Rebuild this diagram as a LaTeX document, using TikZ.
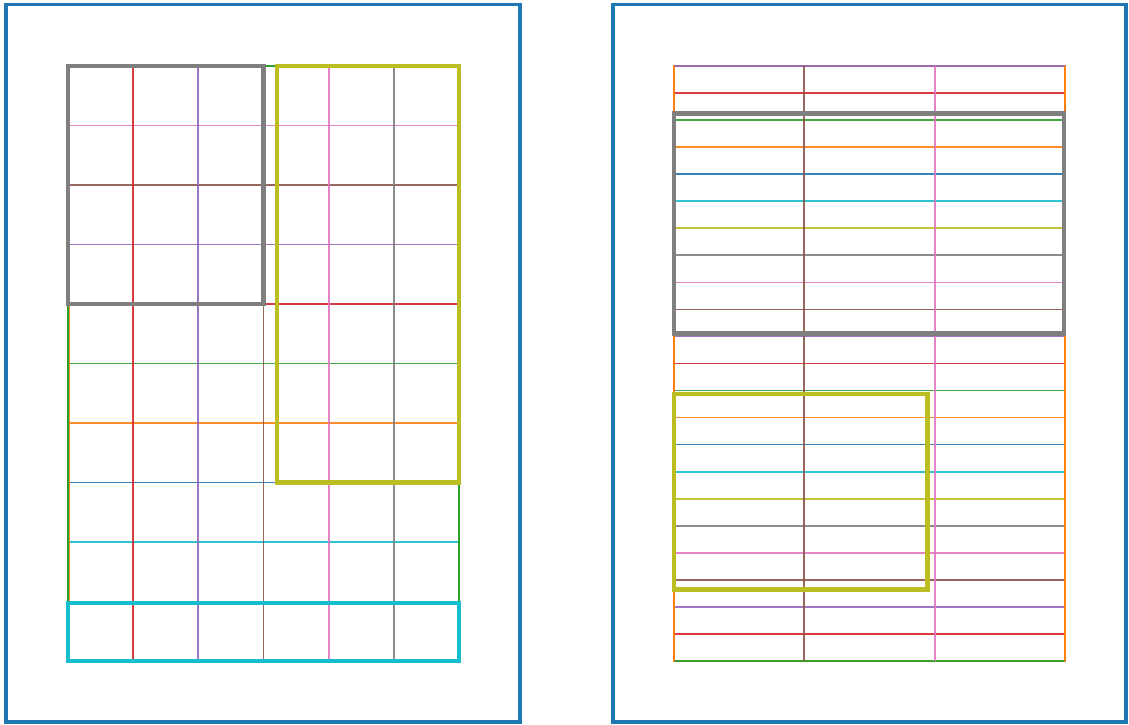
\documentclass[tikz,border=0pt]{standalone}
\definecolor{tabblue}{HTML}{1F77B4}
\definecolor{taborange}{HTML}{FF7F0E}
\definecolor{tabgreen}{HTML}{2CA02C}
\definecolor{tabred}{HTML}{D62728}
\definecolor{tabpurple}{HTML}{9467BD}
\definecolor{tabbrown}{HTML}{8C564B}
\definecolor{tabpink}{HTML}{E377C2}
\definecolor{tabgray}{HTML}{7F7F7F}
\definecolor{tabolive}{HTML}{BCBD22}
\definecolor{tabcyan}{HTML}{17BECF}
\tikzset{
  pageframe/.style={draw=tabblue, line width=3.2pt},
  gridline/.style={line width=1.7pt, opacity=0.9},
  gridframe/.style={line width=2.8pt},
  regionbox/.style={line width=4.8pt},
}
\begin{document}
\begin{tikzpicture}[x=1pt,y=-1pt]
\useasboundingbox (0,0) rectangle (1129,725);
% ---------- left page ----------
\coordinate (LP1) at (6,4.5);
\coordinate (LP2) at (520,722);
\draw[pageframe] (LP1) rectangle (LP2);
% horizontal grid lines
\foreach \i/\c in {1/tabpink,2/tabbrown,3/tabpurple,4/tabred,5/tabgreen,6/taborange,7/tabblue,8/tabcyan,9/tabolive,10/tabgray}{
  \draw[gridline,\c] (68,{66+59.5*\i}) -- (459,{66+59.5*\i});
}
% vertical grid lines
\foreach \i/\c in {1/tabred,2/tabpurple,3/tabbrown,4/tabpink,5/tabgray}{
  \draw[gridline,\c] ({68+65.17*\i},66) -- ({68+65.17*\i},661);
}
\draw[gridline,taborange] (69.6,66) -- (69.6,661);
\draw[tabgreen,line width=2.2pt] (67.8,66) rectangle (459,661);
% region boxes
\draw[regionbox,tabgray] (68,66) rectangle (263.5,304);
\draw[regionbox,tabolive] (277,66) rectangle (459,482.7);
\draw[regionbox,tabcyan] (68,603) rectangle (459,661);
% ---------- right page ----------
\coordinate (RP1) at (613,4.5);
\coordinate (RP2) at (1126,722);
\draw[pageframe] (RP1) rectangle (RP2);
\draw[gridframe,taborange] (674,66) rectangle (1065,661);
\foreach \i/\c in {0/tabpurple,1/tabred,2/tabgreen,3/taborange,4/tabblue,5/tabcyan,6/tabolive,7/tabgray,8/tabpink,9/tabbrown,10/tabpurple,11/tabred,12/tabgreen,13/taborange,14/tabblue,15/tabcyan,16/tabolive,17/tabgray,18/tabpink,19/tabbrown,20/tabpurple,21/tabred,22/tabgreen}{
  \draw[gridline,\c] (674,{66+27.045*\i}) -- (1065,{66+27.045*\i});
}
\draw[gridframe,taborange] (674,66) -- (674,661);
\draw[gridframe,taborange] (1065,66) -- (1065,661);
\draw[gridline,tabbrown] (804.3,66) -- (804.3,661);
\draw[gridline,tabpink] (934.7,66) -- (934.7,661);
\draw[regionbox,tabgray] (674,113.5) rectangle (1064,333.5);
\draw[regionbox,tabolive] (674,394) rectangle (927.5,589.5);
\end{tikzpicture}
\end{document}
